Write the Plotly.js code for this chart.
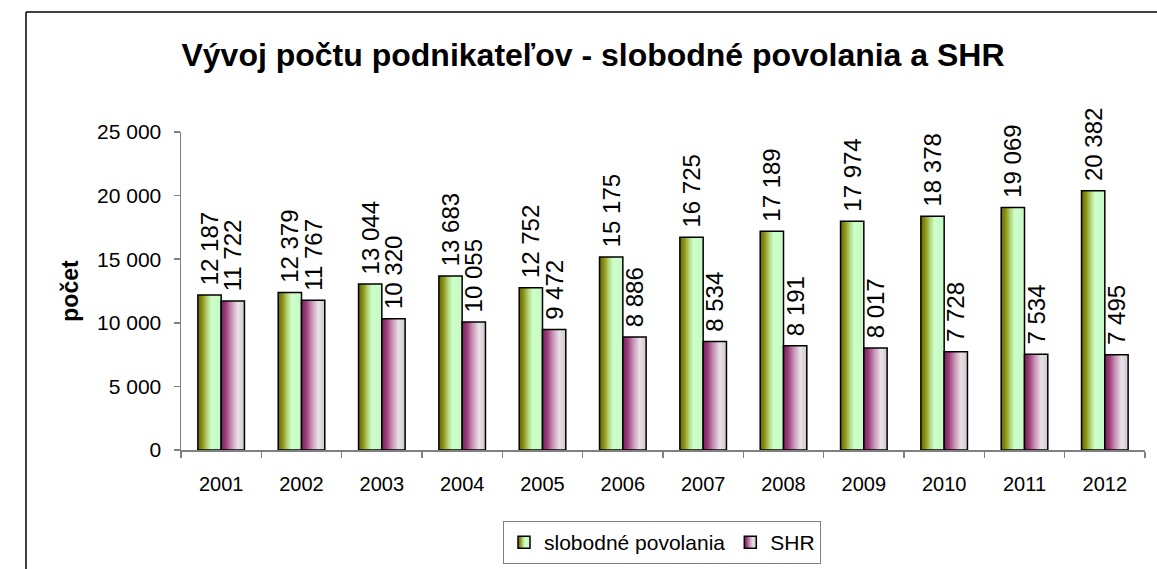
<!DOCTYPE html>
<html>
<head>
<meta charset="utf-8">
<script src="https://cdn.plot.ly/plotly-3.0.1.min.js"></script>
<style>
  html, body { margin: 0; padding: 0; background: #fff; overflow: hidden; }
  #chart { width: 1157px; height: 569px; }
</style>
</head>
<body>
<div id="chart"></div>
<script>
const years = ['2001','2002','2003','2004','2005','2006','2007','2008','2009','2010','2011','2012'];
const slobodne = [12187, 12379, 13044, 13683, 12752, 15175, 16725, 17189, 17974, 18378, 19069, 20382];
const shr = [11722, 11767, 10320, 10055, 9472, 8886, 8534, 8191, 8017, 7728, 7534, 7495];
const seriesNames = ['slobodné povolania', 'SHR'];
const yTicks = [0, 5000, 10000, 15000, 20000, 25000];

const W = 1157, H = 569;
const M = {l: 181, r: 12, t: 132, b: 119};
const pw = W - M.l - M.r, ph = H - M.t - M.b;
const px = x => (x - M.l) / pw;
const py = y => (H - M.b - y) / ph;

const FONT = 'Liberation Sans, Arial, sans-serif';

const common = {
  type: 'bar',
  x: years,
  texttemplate: '\u00a0%{y:,d}',
  textposition: 'outside',
  textangle: -90,
  constraintext: 'none',
  cliponaxis: false,
  textfont: {family: FONT, size: 24, color: '#000'},
  hoverinfo: 'skip'
};

const data = [
  Object.assign({}, common, {
    name: seriesNames[0], y: slobodne,
    marker: {color: '#ccffcc', line: {color: '#000', width: 1.5}}
  }),
  Object.assign({}, common, {
    name: seriesNames[1], y: shr,
    marker: {color: '#c080a8', line: {color: '#000', width: 1.5}}
  })
];

const layout = {
  width: W, height: H,
  margin: Object.assign({autoexpand: false}, M),
  paper_bgcolor: '#fff', plot_bgcolor: '#fff',
  separators: ', ',
  barmode: 'group',
  bargap: 0.42,
  bargroupgap: 0,
  showlegend: true,
  font: {family: FONT, color: '#000'},
  title: {
    text: '<b>Vývoj počtu podnikateľov - slobodné povolania a SHR</b>',
    font: {family: FONT, size: 32, color: '#000'},
    x: 593 / W, xanchor: 'center',
    y: 1 - 55 / H, yanchor: 'middle'
  },
  xaxis: {
    type: 'category',
    automargin: false,
    showline: true, linecolor: '#808080', linewidth: 1.5,
    ticks: 'outside', tickson: 'boundaries', ticklen: 6, tickcolor: '#808080', tickwidth: 1.5,
    ticklabelstandoff: 15,
    tickfont: {family: FONT, size: 20, color: '#000'},
    showgrid: false, zeroline: false, fixedrange: true
  },
  yaxis: {
    range: [0, 25000],
    automargin: false,
    tickvals: yTicks,
    tickformat: ',d',
    showline: true, linecolor: '#808080', linewidth: 1.5,
    ticks: 'outside', ticklen: 6, tickcolor: '#808080', tickwidth: 1.5,
    ticklabelstandoff: 8,
    tickfont: {family: FONT, size: 21, color: '#000'},
    showgrid: false, zeroline: false, fixedrange: true,
    title: {text: '<b>počet</b>', font: {family: FONT, size: 23, color: '#000'}, standoff: 12}
  },
  legend: {
    orientation: 'h',
    x: px(662), xanchor: 'center',
    y: py(521), yanchor: 'top',
    bordercolor: '#808080', borderwidth: 1,
    bgcolor: '#fff',
    itemwidth: 30,
    font: {family: FONT, size: 21, color: '#000'},
    itemclick: false, itemdoubleclick: false,
    traceorder: 'normal'
  },
  shapes: [
    {type: 'line', xref: 'paper', yref: 'paper', x0: px(26), x1: px(26), y0: py(12), y1: py(575), line: {color: '#000', width: 1.5}},
    {type: 'line', xref: 'paper', yref: 'paper', x0: px(26), x1: px(1160), y0: py(12), y1: py(12), line: {color: '#000', width: 1.5}}
  ]
};

const gd = document.getElementById('chart');
Plotly.newPlot(gd, data, layout, {staticPlot: true, displayModeBar: false}).then(() => {
  const svgNS = 'http://www.w3.org/2000/svg';
  const svg = gd.querySelector('svg.main-svg');
  let defs = svg.querySelector('defs');
  if (!defs) { defs = document.createElementNS(svgNS, 'defs'); svg.insertBefore(defs, svg.firstChild); }
  function grad(id, stops) {
    const g = document.createElementNS(svgNS, 'linearGradient');
    g.setAttribute('id', id);
    g.setAttribute('x1', '0'); g.setAttribute('x2', '1');
    g.setAttribute('y1', '0'); g.setAttribute('y2', '0');
    stops.forEach(s => {
      const st = document.createElementNS(svgNS, 'stop');
      st.setAttribute('offset', s[0]);
      st.setAttribute('stop-color', s[1]);
      g.appendChild(st);
    });
    defs.appendChild(g);
  }
  grad('gGreen', [[0, '#666600'], [0.2, '#8f9418'], [0.4, '#b5d67e'], [0.58, '#ccffcc'], [1, '#c8f8c4']]);
  grad('gPink', [[0, '#7a1f5c'], [0.2, '#993d78'], [0.45, '#c994b6'], [0.72, '#e8e2e8'], [1, '#d0c8d0']]);
  const ids = ['gGreen', 'gPink'];
  gd.querySelectorAll('.barlayer .trace.bars').forEach((tr, i) => {
    tr.querySelectorAll('path').forEach(p => { p.style.fill = 'url(#' + ids[i] + ')'; });
  });
  gd.querySelectorAll('.legend .traces').forEach((tr, i) => {
    tr.querySelectorAll('.legendpoints path').forEach(p => { p.style.fill = 'url(#' + ids[i] + ')'; });
  });
});
</script>
</body>
</html>
